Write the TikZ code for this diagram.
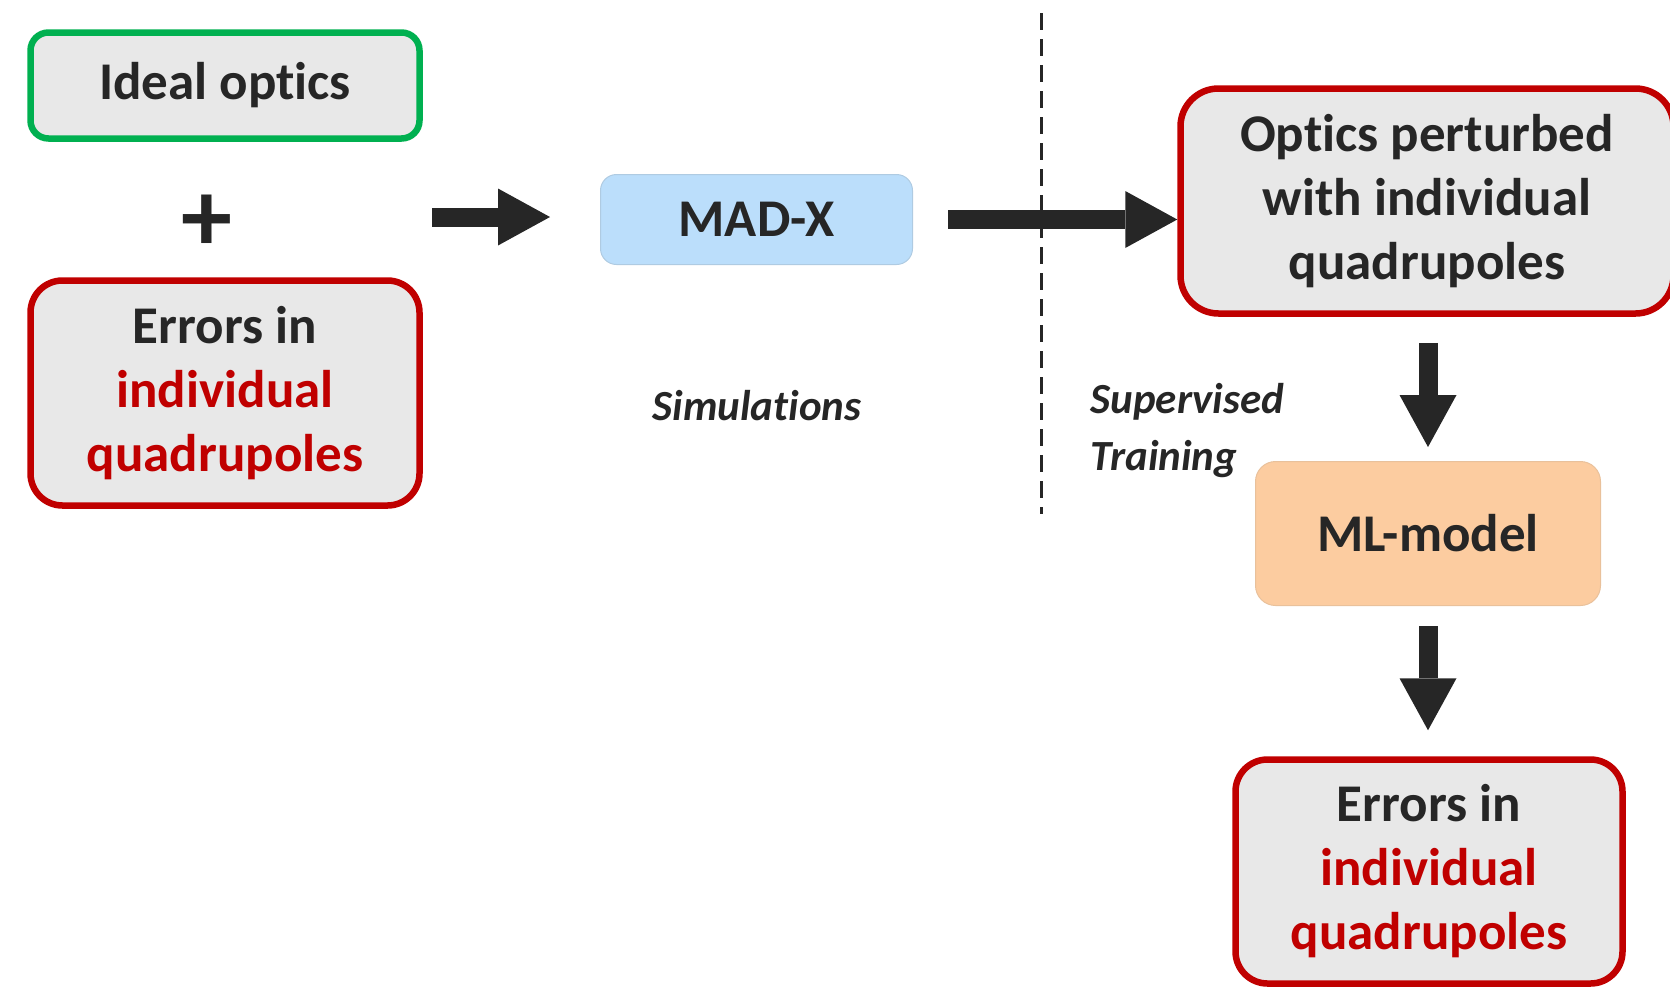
\documentclass[tikz,border=0pt]{standalone}
\usepackage{fontspec}
\setmainfont{Carlito}[Ligatures=NoCommon]
\usepackage{xcolor}
\usetikzlibrary{arrows.meta}
\definecolor{darktext}{RGB}{38,38,38}
\definecolor{errred}{RGB}{192,0,0}
\definecolor{okgreen}{RGB}{0,176,80}
\definecolor{boxgray}{RGB}{232,232,232}
\definecolor{madblue}{RGB}{187,222,251}
\definecolor{mlorange}{RGB}{252,204,160}

\tikzset{
  mainbox/.style={draw=errred, fill=boxgray, line width=6.5pt, rounded corners=32pt, align=center,
    text=darktext, inner sep=0pt, font=\fontsize{53}{64}\selectfont\bfseries},
  toolbox/.style={line width=1pt, rounded corners=16pt, inner sep=0pt, text=darktext,
    font=\fontsize{53}{64}\selectfont\bfseries},
  bigarrow/.style={draw=darktext, line width=19pt, -{Triangle[length=52pt,width=57pt,line width=0pt]}},
  sidenote/.style={text=darktext, font=\fontsize{43}{57}\selectfont\bfseries\itshape}
}

\begin{document}
\begin{tikzpicture}[x=1pt, y=-1pt]
\useasboundingbox (0,0) rectangle (1670,989);

% Inputs of the simulation
\node[mainbox, draw=okgreen, rounded corners=18pt, minimum width=389pt, minimum height=106pt] (ideal) at (225,85.5) {Ideal optics};
\node[text=darktext, font=\fontsize{102}{102}\selectfont\bfseries] (plus) at (207,223) {+};
\node[mainbox, minimum width=389pt, minimum height=225pt] (errin) at (225,393) {Errors in\\\color{errred}individual\\\color{errred}quadrupoles};

% Simulation tool
\node[toolbox, draw=madblue!80!gray, fill=madblue, minimum width=312pt, minimum height=90pt] (madx) at (756.5,219.5) {MAD-X};
\node[sidenote] (simul) at (757,406) {Simulations};

% Training side
\node[mainbox, rounded corners=38pt, minimum width=493pt, minimum height=225pt] (optics) at (1427,201) {Optics perturbed\\with individual\\quadrupoles};
\node[sidenote, align=left, anchor=west] (train) at (1087,431) {Supervised\\Training};
\node[toolbox, rounded corners=20pt, draw=mlorange!85!gray, fill=mlorange, minimum width=345pt, minimum height=144pt] (mlmodel) at (1428,533.5) {ML-model};
\node[mainbox, minimum width=387pt, minimum height=224pt] (errout) at (1429,871.5) {Errors in\\\color{errred}individual\\\color{errred}quadrupoles};

% Divider
\draw[darktext, line width=3pt, dash pattern=on 17pt off 9pt] (1041,13) -- (1041,514);

% Arrows
\coordinate (inpt) at (432,217);
\draw[bigarrow, shorten >=50pt] (inpt) -- (madx.west |- inpt);
\draw[bigarrow, shorten <=35pt] (madx.east) -- (madx.east -| optics.west);
\draw[bigarrow, shorten <=26pt, shorten >=14pt] (optics.south -| mlmodel.north) -- (mlmodel.north);
\draw[bigarrow, shorten <=20pt, shorten >=26pt] (mlmodel.south) -- (mlmodel.south |- errout.north);
\end{tikzpicture}
\end{document}
